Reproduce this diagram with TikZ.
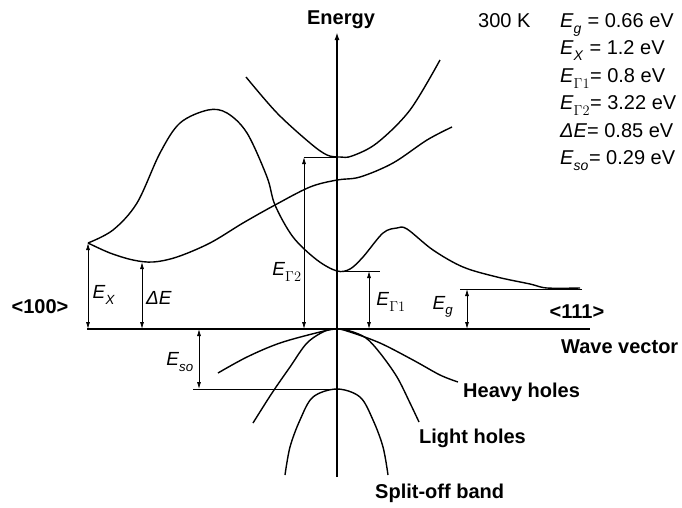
\documentclass[tikz,border=0pt]{standalone}
\usepackage{fontspec}
\setmainfont{Liberation Sans}
\usetikzlibrary{arrows.meta,positioning,calc}
\newcommand{\Esub}[1]{\textit{E}\raisebox{-0.3ex}{\textsubscript{#1}}}
\tikzset{band/.style={line width=1.4pt,line join=round,smooth,tension=0.55},
  axis/.style={line width=2pt},
  guide/.style={line width=0.7pt},
  dimarr/.style={line width=0.8pt,{Latex[length=7pt,width=4pt]}-{Latex[length=7pt,width=4pt]}},
  lbl/.style={font=\fontsize{20}{24}\selectfont\bfseries,inner sep=0pt},
  sym/.style={font=\fontsize{19}{23}\selectfont,inner sep=0pt},
  val/.style={font=\fontsize{20}{24}\selectfont,inner sep=0pt,anchor=base west}}
\begin{document}
\begin{tikzpicture}[x=1pt,y=-1pt]
\useasboundingbox (0,0) rectangle (682,507);
% key points
\coordinate (O) at (337,329);
\coordinate (Xpt) at (88,243);
\coordinate (Xmin) at (142,262);
\coordinate (G1) at (337,271);
\coordinate (G2) at (337,157);
\coordinate (SO) at (337,389);
\coordinate (kleft) at (87,329);
\coordinate (kright) at (590,329);
\coordinate (ebot) at (337,477);
\coordinate (etop) at (337,32);
% axes
\draw[axis] (kleft) -- (kright);
\draw[axis,-{Latex[length=8pt,width=5pt]}] (ebot) -- (etop);
\node[lbl,anchor=base] (energy) at (341,24) {Energy};
\node[lbl,anchor=base west] (wave) at (561,353) {Wave vector};
\node[lbl] (k100) at (40,307) {<100>};
\node[lbl] (k111) at (577,312) {<111>};
% conduction bands
\draw[band] plot coordinates {(88,243) (113,230) (137,203) (160,153) (180,123) (208,110) (227,113)
  (247,133) (267,177) (275,205) (293,237) (317,260) (337,271) (350,269) (363,257) (383,233)
  (397,228) (407,229) (433,250) (463,267) (497,277) (530,284) (547,288) (580,288)};
\draw[band] plot coordinates {(88,243) (110,253) (133,260) (153,262) (177,257) (210,243) (243,223)
  (275,205) (310,187) (337,180) (360,177) (393,163) (427,140) (452,127)};
\draw[band] plot coordinates {(246,77) (277,113) (310,143) (327,155) (340,157) (352,156) (377,143)
  (410,110) (440,60)};
% valence bands
\draw[band] plot coordinates {(218,373) (247,357) (280,343) (320,332) (337,329) (350,332) (380,343)
  (413,360) (440,375) (458,382)};
\draw[band] plot coordinates {(253,423) (272,393) (290,367) (307,343) (325,331) (337,329) (350,331)
  (366,338) (380,353) (397,377) (410,403) (419,422)};
\draw[band] plot coordinates {(285,475) (290,447) (300,420) (313,397) (337,389) (360,397) (373,420)
  (383,447) (388,475)};
\node[lbl,anchor=base west] (heavy) at (463,397) {Heavy holes};
\node[lbl,anchor=base west] (light) at (419,443) {Light holes};
\node[lbl,anchor=base west] (split) at (375,498) {Split-off band};
% energy gaps
\draw[dimarr] (Xpt) -- (Xpt |- O);
\node[sym] (lEx) at (104,295) {\Esub{\textit{X}}};
\draw[dimarr] (Xmin) -- (Xmin |- O);
\node[sym] (ldE) at (159,298) {\textit{ΔE}};
\draw[guide] (G2) -- ++(-33,0) coordinate (g2end);
\draw[dimarr] (g2end) -- (g2end |- O);
\node[sym] (lG2) at (287,272) {\Esub{$\Gamma2$}};
\draw[guide] (G1) -- ++(43,0) coordinate (g1end);
\coordinate (g1arr) at (369,271);
\draw[dimarr] (g1arr) -- (g1arr |- O);
\node[sym] (lG1) at (391,302) {\Esub{$\Gamma1$}};
\coordinate (Lend) at (582,289);
\draw[guide] (Lend) -- ++(-122,0) coordinate (lgstart);
\coordinate (lgarr) at (467,289);
\draw[dimarr] (lgarr) -- (lgarr |- O);
\node[sym] (lEg) at (443,307) {\Esub{\textit{g}}};
\draw[guide] (SO) -- ++(-144,0) coordinate (soend);
\coordinate (soarr) at (199,389);
\draw[dimarr] (soarr |- O) -- (soarr);
\node[sym] (lEso) at (180,362) {\Esub{\textit{so}}};
% parameters
\node[val] (temp) at (478,27) {300 K};
\node[val] (vEg) at (560,27) {\Esub{\textit{g}} = 0.66 eV};
\node[val] (vEx) at (560,54.5) {\Esub{\textit{X}} = 1.2 eV};
\node[val] (vG1) at (560,82) {\Esub{$\Gamma1$}= 0.8 eV};
\node[val] (vG2) at (560,109.5) {\Esub{$\Gamma2$}= 3.22 eV};
\node[val] (vdE) at (560,137) {\textit{ΔE}= 0.85 eV};
\node[val] (vso) at (560,164.5) {\Esub{\textit{so}}= 0.29 eV};
\end{tikzpicture}
\end{document}
